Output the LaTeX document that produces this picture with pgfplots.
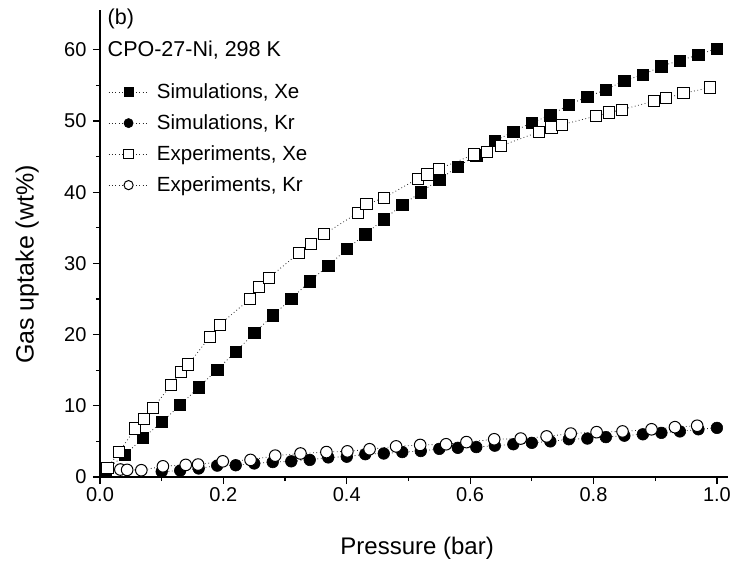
\documentclass[border=0pt]{standalone}
\usepackage{pgfplots}
\pgfplotsset{compat=1.18}
\usepackage{fontspec}
\setmainfont{Liberation Sans}
\pgfplotstableread{
x y
0.01 1.0
0.04 3.1
0.07 5.5
0.10 7.7
0.13 10.1
0.16 12.6
0.19 15.1
0.22 17.6
0.25 20.2
0.28 22.7
0.31 25.0
0.34 27.5
0.37 29.7
0.40 32.0
0.43 34.1
0.46 36.2
0.49 38.2
0.52 40.0
0.55 41.8
0.58 43.6
0.61 45.2
0.64 47.2
0.67 48.5
0.70 49.8
0.73 50.8
0.76 52.3
0.79 53.4
0.82 54.4
0.85 55.7
0.88 56.5
0.91 57.7
0.94 58.5
0.97 59.3
1.00 60.2
}\simxe
\pgfplotstableread{
x y
0.10 0.76
0.13 0.9
0.16 1.2
0.19 1.6
0.22 1.65
0.25 1.9
0.28 2.1
0.31 2.2
0.34 2.4
0.37 2.75
0.40 2.85
0.43 3.2
0.46 3.3
0.49 3.5
0.52 3.65
0.55 3.95
0.58 4.1
0.61 4.2
0.64 4.4
0.67 4.6
0.70 4.8
0.73 5.0
0.76 5.3
0.79 5.4
0.82 5.6
0.85 5.8
0.88 6.0
0.91 6.2
0.94 6.4
0.97 6.7
1.00 6.9
}\simkr
\pgfplotstableread{
x y
0.012 1.3
0.031 3.5
0.057 6.8
0.071 8.2
0.086 9.7
0.115 12.9
0.131 14.8
0.143 15.8
0.178 19.7
0.194 21.4
0.243 25.0
0.258 26.7
0.274 28.0
0.323 31.5
0.342 32.7
0.363 34.1
0.418 37.1
0.432 38.3
0.460 39.2
0.515 41.9
0.531 42.5
0.550 43.3
0.606 45.3
0.627 45.7
0.650 46.5
0.712 48.5
0.732 49.1
0.749 49.5
0.804 50.7
0.825 51.2
0.846 51.6
0.898 52.8
0.917 53.2
0.946 53.9
0.989 54.7
}\expxe
\pgfplotstableread{
x y
0.033 1.05
0.044 1.0
0.067 0.95
0.102 1.5
0.139 1.7
0.159 1.75
0.199 2.2
0.244 2.4
0.284 3.0
0.325 3.3
0.367 3.5
0.401 3.6
0.437 3.9
0.480 4.3
0.519 4.5
0.561 4.6
0.594 4.9
0.639 5.3
0.682 5.4
0.724 5.7
0.763 6.1
0.805 6.3
0.847 6.4
0.894 6.7
0.932 7.0
0.968 7.2
}\expkr
\begin{document}
\begin{tikzpicture}
\useasboundingbox (-100pt,-103pt) rectangle (630pt,477pt);
\begin{axis}[
  at={(0pt,0pt)}, anchor=south west,
  scale only axis, width=628pt, height=467pt,
  xmin=0, xmax=1.018, ymin=0, ymax=65.6,
  axis x line*=bottom, axis y line*=left,
  axis line style={line width=1.3pt},
  xtick={0,0.2,0.4,0.6,0.8,1.0}, minor x tick num=1,
  ytick={0,10,20,30,40,50,60}, minor y tick num=1,
  tick align=outside, major tick length=7pt, minor tick length=4pt,
  every tick/.style={black, line width=1.2pt},
  xticklabel style={/pgf/number format/.cd, fixed, fixed zerofill, precision=1},
  yticklabel style={xshift=-3pt},
  /pgf/number format/assume math mode=true,
  tick label style={font=\fontsize{20}{24}\selectfont},
  xlabel={Pressure (bar)}, ylabel={Gas uptake (wt\%)},
  label style={font=\fontsize{24}{29}\selectfont},
  xlabel style={at={(rel axis cs:0.505,-0.152)}, anchor=center},
  ylabel style={at={(rel axis cs:-0.116,0.455)}, anchor=center, font=\fontsize{25}{30}\selectfont},
  clip=false,
  legend cell align=left,
  legend style={at={(rel axis cs:0.0127,0.846)}, anchor=north west, draw=none, fill=none,
    inner sep=0pt, font=\fontsize{20.5}{25}\selectfont, row sep=11pt,
    nodes={inner sep=0pt, text height=16pt, text depth=4pt},
    /tikz/every odd column/.append style={column sep=8pt}},
  legend image code/.code={\draw[mark repeat=2,mark phase=2,#1,mark size=4.6pt] plot coordinates {(0pt,0pt) (20pt,0pt) (40pt,0pt)};},
  dotline/.style={black!85, line width=0.8pt, dash pattern=on 0.8pt off 2.6pt},
]
\addplot[dotline, mark=square*, mark size=5.6pt, mark options={solid, fill=black, draw=black, line width=0.6pt}] table {\simxe};
\addlegendentry{Simulations, Xe}
\addplot[dotline, mark=*, mark size=5.8pt, mark options={solid, fill=black, draw=black, line width=0.6pt}] table {\simkr};
\addlegendentry{Simulations, Kr}
\addplot[dotline, mark=square*, mark size=5.6pt, mark options={solid, fill=white, draw=black, line width=1pt}] table {\expxe};
\addlegendentry{Experiments, Xe}
\addplot[dotline, mark=*, mark size=5.8pt, mark options={solid, fill=white, draw=black, line width=1pt}] table {\expkr};
\addlegendentry{Experiments, Kr}
\node[anchor=west, inner sep=0pt, font=\fontsize{21.5}{26}\selectfont] at (rel axis cs:0.012,0.981) {(b)};
\node[anchor=west, inner sep=0pt, font=\fontsize{21.5}{26}\selectfont] at (rel axis cs:0.012,0.914) {CPO-27-Ni, 298 K};
\end{axis}
\end{tikzpicture}
\end{document}
